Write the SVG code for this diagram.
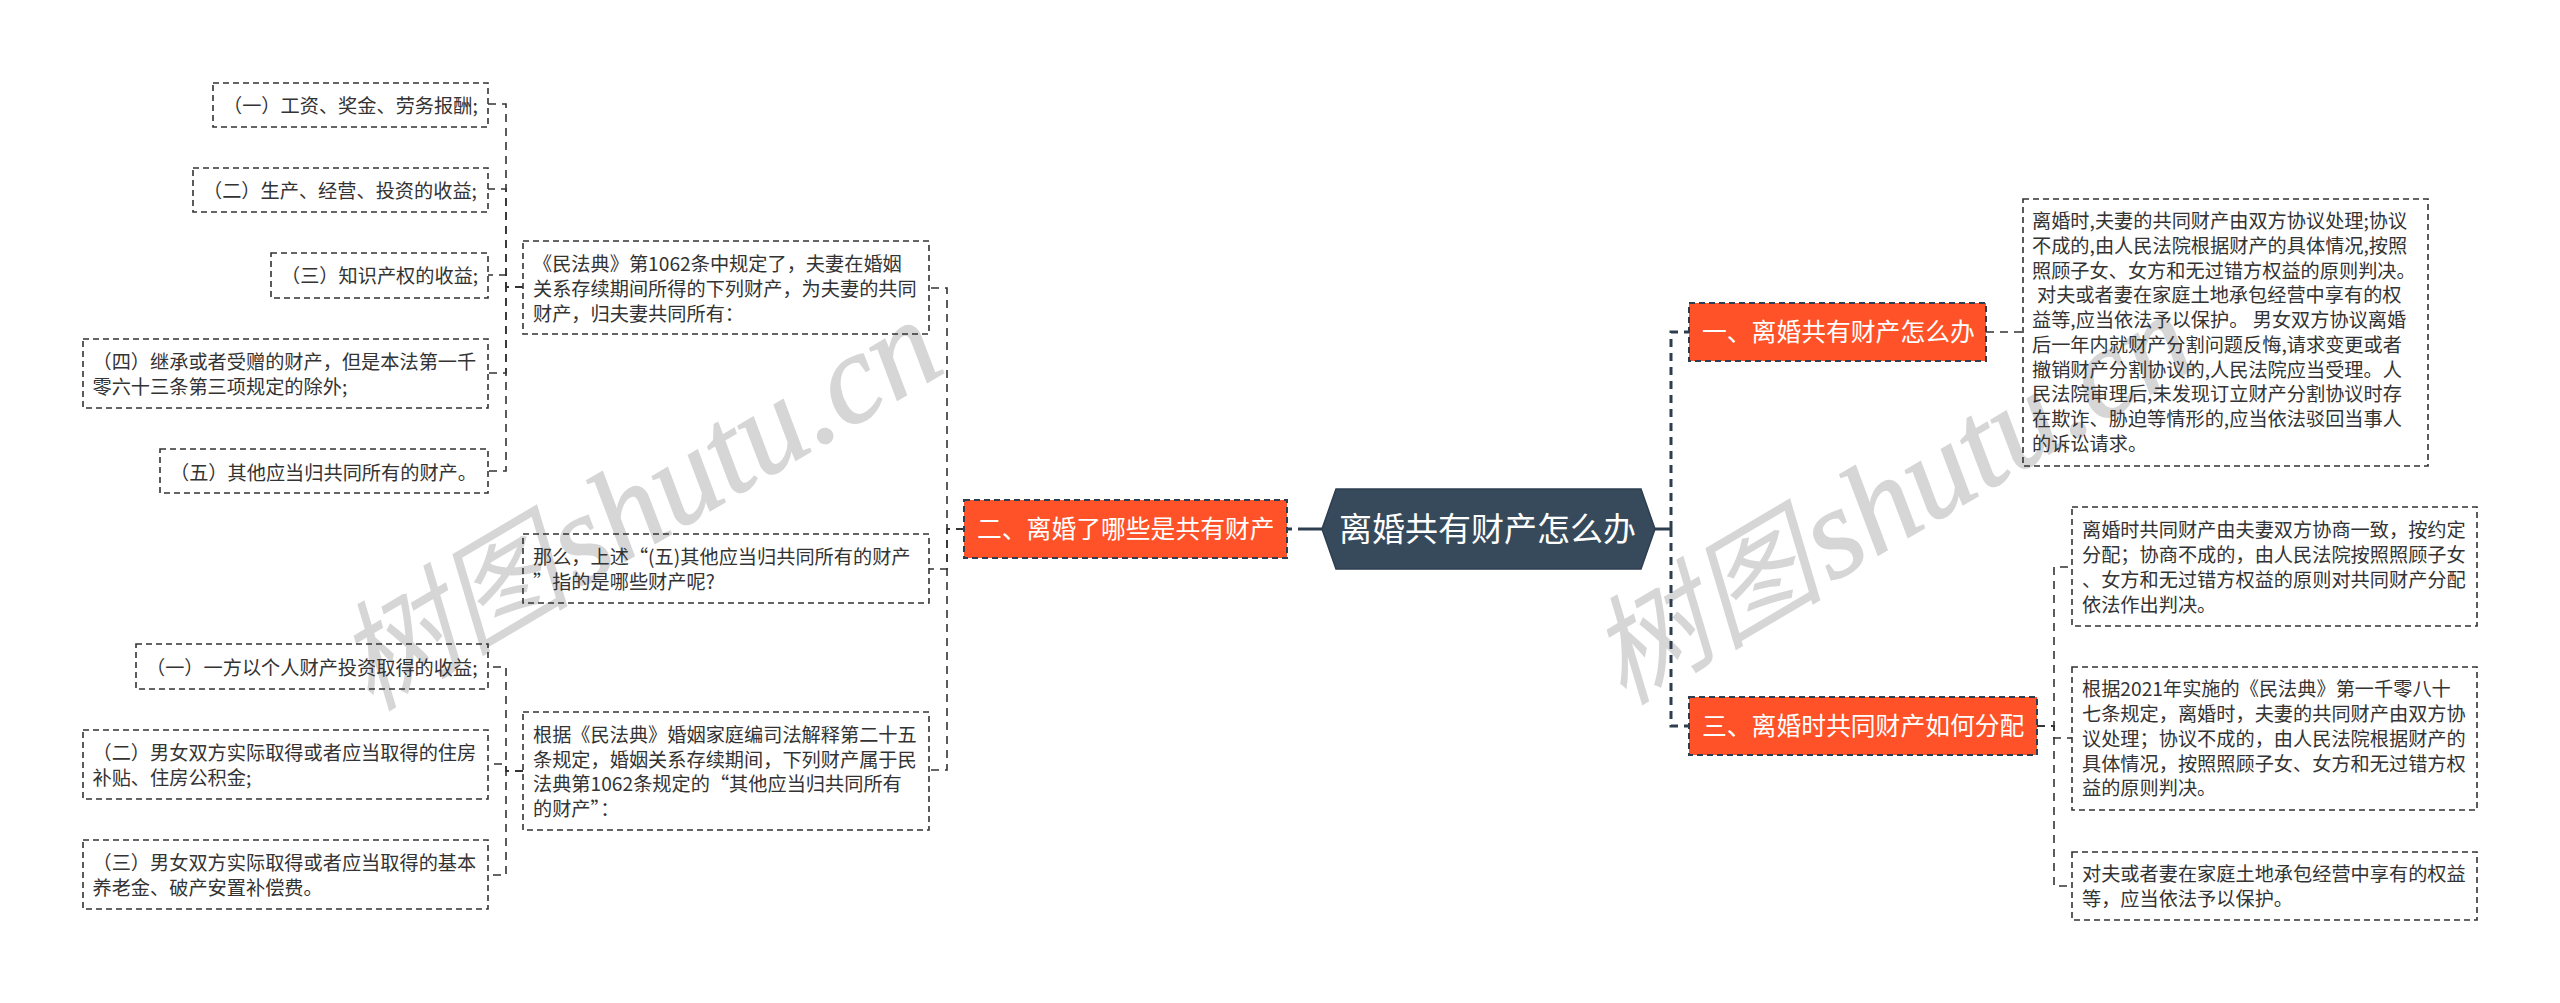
<svg xmlns="http://www.w3.org/2000/svg" width="2560" height="1003" viewBox="0 0 2560 1003">
<style>
text{font-family:"Noto Sans CJK SC","Noto Sans",sans-serif}
.wm{font-family:"Liberation Serif","Noto Sans CJK SC",serif;font-style:italic;font-size:118px;fill:#d6d6d6}
.la{font-size:128px;stroke:#d6d6d6;stroke-width:1.5}
.t{font-size:19.2px;fill:#333}
.box{fill:none;stroke:#333;stroke-width:1.6;stroke-dasharray:6 4}
.o{fill:#ff5228;stroke:#2c3e50;stroke-width:2;stroke-dasharray:6 4}
.ot{font-size:24.8px;fill:#fff}
.c1{fill:none;stroke:#2c3e50;stroke-width:3;stroke-dasharray:8 6}
.s1{fill:none;stroke:#2c3e50;stroke-width:3}
.c2{fill:none;stroke:#333;stroke-width:1.6;stroke-dasharray:8 6}
</style>
<rect width="2560" height="1003" fill="#fff"/>
<g id="watermarks">
<text class="wm" transform="translate(370 712) rotate(-30.6)">树图<tspan class="la" dx="6">shutu.cn</tspan></text>
<text class="wm" transform="translate(1623 706) rotate(-30.6)">树图<tspan class="la" dx="6">shutu.cn</tspan></text>
</g>
<g id="connectors">
<path class="s1" d="M1322 529H1298"/>
<path class="s1" d="M1292 529H1287"/>
<path class="s1" d="M1655 529H1671"/>
<path class="c1" d="M1671 529V332H1689"/>
<path class="c1" d="M1671 529V726H1689"/>
<path class="c2" d="M964 529H947V288H929"/>
<path class="c2" d="M964 529H947V569H929"/>
<path class="c2" d="M964 529H947V770H929"/>
<path class="c2" d="M523 287H506V104H488"/>
<path class="c2" d="M523 287H506V189H488"/>
<path class="c2" d="M523 287H506V275H488"/>
<path class="c2" d="M523 287H506V373H488"/>
<path class="c2" d="M523 287H506V471H488"/>
<path class="c2" d="M523 771H506V667H488"/>
<path class="c2" d="M523 771H506V764H488"/>
<path class="c2" d="M523 771H506V875H488"/>
<path class="c2" d="M1986 332H2023"/>
<path class="c2" d="M2037 726H2054V567H2072"/>
<path class="c2" d="M2037 726H2054V738H2072"/>
<path class="c2" d="M2037 726H2054V886H2072"/>
</g>
<g id="root">
<polygon points="1336,489 1641,489 1655,529 1641,569 1336,569 1322,529" fill="#374a5b" stroke="#2c3e50" stroke-width="1.5"/>
<text x="1339" y="541" font-size="33" fill="#fff">离婚共有财产怎么办</text>
</g>
<g id="branch-1"><rect class="o" x="1689" y="303" width="297" height="58"/><text class="ot" x="1702" y="341">一、离婚共有财产怎么办</text></g>
<g id="branch-2"><rect class="o" x="964" y="500" width="323" height="58"/><text class="ot" x="977" y="538">二、离婚了哪些是共有财产</text></g>
<g id="branch-3"><rect class="o" x="1689" y="697" width="348" height="58"/><text class="ot" x="1702" y="735">三、离婚时共同财产如何分配</text></g>
<g id="l1"><rect class="box" x="213" y="83" width="275" height="44"/><text class="t" x="223" y="113">（一）工资、奖金、劳务报酬;</text></g>
<g id="l2"><rect class="box" x="193" y="168" width="295" height="44"/><text class="t" x="203" y="198">（二）生产、经营、投资的收益;</text></g>
<g id="l3"><rect class="box" x="271" y="253" width="217" height="45"/><text class="t" x="281" y="283">（三）知识产权的收益;</text></g>
<g id="l4"><rect class="box" x="83" y="339" width="405" height="69"/><text class="t" x="92.500" y="369">（四）继承或者受赠的财产，但是本法第一千</text><text class="t" x="92.500" y="394">零六十三条第三项规定的除外;</text></g>
<g id="l5"><rect class="box" x="160" y="449" width="328" height="44"/><text class="t" x="170" y="480">（五）其他应当归共同所有的财产。</text></g>
<g id="m1"><rect class="box" x="136" y="644" width="352" height="45"/><text class="t" x="146" y="675">（一）一方以个人财产投资取得的收益;</text></g>
<g id="m2"><rect class="box" x="83" y="730" width="405" height="69"/><text class="t" x="92.500" y="760">（二）男女双方实际取得或者应当取得的住房</text><text class="t" x="92.500" y="785">补贴、住房公积金;</text></g>
<g id="m3"><rect class="box" x="83" y="840" width="405" height="69"/><text class="t" x="92.500" y="870">（三）男女双方实际取得或者应当取得的基本</text><text class="t" x="92.500" y="895">养老金、破产安置补偿费。</text></g>
<g id="n1"><rect class="box" x="523" y="241" width="406" height="93"/><text class="t" x="533" y="271">《民法典》第1062条中规定了，夫妻在婚姻</text><text class="t" x="533" y="296">关系存续期间所得的下列财产，为夫妻的共同</text><text class="t" x="533" y="321">财产，归夫妻共同所有：</text></g>
<g id="n2"><rect class="box" x="523" y="534" width="406" height="69"/><text class="t" x="533" y="564">那么，上述“(五)其他应当归共同所有的财产</text><text class="t" x="533" y="589">”指的是哪些财产呢?</text></g>
<g id="n3"><rect class="box" x="523" y="712" width="406" height="118"/><text class="t" x="533" y="742">根据《民法典》婚姻家庭编司法解释第二十五</text><text class="t" x="533" y="767">条规定，婚姻关系存续期间，下列财产属于民</text><text class="t" x="533" y="791">法典第1062条规定的“其他应当归共同所有</text><text class="t" x="533" y="816">的财产”：</text></g>
<g id="r1"><rect class="box" x="2023" y="199" width="405" height="267"/>
<text class="t" x="2032" y="228">离婚时,夫妻的共同财产由双方协议处理;协议</text>
<text class="t" x="2032" y="253">不成的,由人民法院根据财产的具体情况,按照</text>
<text class="t" x="2032" y="277.500">照顾子女、女方和无过错方权益的原则判决。</text>
<text class="t" x="2037" y="302">对夫或者妻在家庭土地承包经营中享有的权</text>
<text class="t" x="2032" y="327">益等,应当依法予以保护。 男女双方协议离婚</text>
<text class="t" x="2032" y="352">后一年内就财产分割问题反悔,请求变更或者</text>
<text class="t" x="2032" y="376.500">撤销财产分割协议的,人民法院应当受理。人</text>
<text class="t" x="2032" y="401">民法院审理后,未发现订立财产分割协议时存</text>
<text class="t" x="2032" y="426">在欺诈、胁迫等情形的,应当依法驳回当事人</text>
<text class="t" x="2032" y="451">的诉讼请求。</text></g>
<g id="r2"><rect class="box" x="2072" y="507" width="405" height="119"/><text class="t" x="2082" y="537">离婚时共同财产由夫妻双方协商一致，按约定</text><text class="t" x="2082" y="562">分配；协商不成的，由人民法院按照照顾子女</text><text class="t" x="2082" y="587">、女方和无过错方权益的原则对共同财产分配</text><text class="t" x="2082" y="612">依法作出判决。</text></g>
<g id="r3"><rect class="box" x="2072" y="667" width="405" height="143"/><text class="t" x="2082" y="696">根据2021年实施的《民法典》第一千零八十</text><text class="t" x="2082" y="721">七条规定，离婚时，夫妻的共同财产由双方协</text><text class="t" x="2082" y="746">议处理；协议不成的，由人民法院根据财产的</text><text class="t" x="2082" y="771">具体情况，按照照顾子女、女方和无过错方权</text><text class="t" x="2082" y="795">益的原则判决。</text></g>
<g id="r4"><rect class="box" x="2072" y="852" width="405" height="68"/><text class="t" x="2082" y="881">对夫或者妻在家庭土地承包经营中享有的权益</text><text class="t" x="2082" y="906">等，应当依法予以保护。</text></g>
</svg>
